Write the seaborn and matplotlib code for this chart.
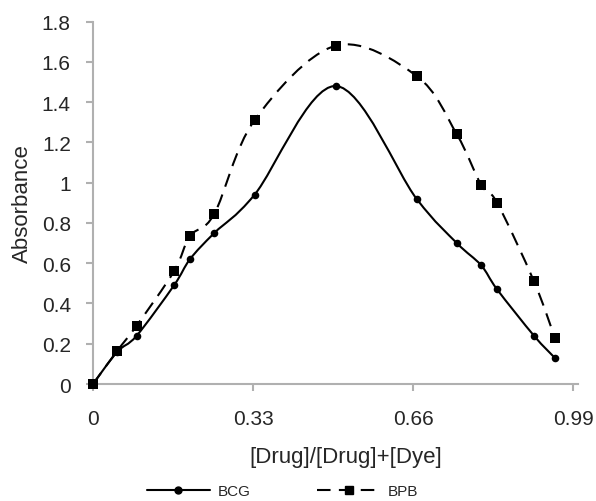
import numpy as np
import pandas as pd
import seaborn as sns
import matplotlib
matplotlib.use("Agg")
import matplotlib.pyplot as plt
from matplotlib.path import Path
from matplotlib.patches import PathPatch
from matplotlib.lines import Line2D

# mole fraction [Drug]/([Drug]+[Dye]) and absorbance
ratio = [0, 0.05, 0.09, 0.167, 0.2, 0.25, 0.333, 0.5, 0.667, 0.75, 0.8, 0.833, 0.909, 0.952]
bcg = [0, 0.16, 0.24, 0.49, 0.62, 0.75, 0.94, 1.48, 0.92, 0.70, 0.59, 0.47, 0.24, 0.13]
bpb = [0, 0.165, 0.29, 0.56, 0.735, 0.845, 1.31, 1.68, 1.53, 1.24, 0.99, 0.90, 0.51, 0.23]

x_ticks = [0, 0.33, 0.66, 0.99]
x_labels = ['0', '0.33', '0.66', '0.99']
y_ticks = [0, 0.2, 0.4, 0.6, 0.8, 1.0, 1.2, 1.4, 1.6, 1.8]
y_labels = ['0', '0.2', '0.4', '0.6', '0.8', '1', '1.2', '1.4', '1.6', '1.8']

sns.set_style("white")
plt.rcParams['font.family'] = ['Liberation Sans', 'DejaVu Sans']

df = pd.DataFrame({'ratio': ratio * 2,
                   'abs': bcg + bpb,
                   'dye': ['BCG'] * len(ratio) + ['BPB'] * len(ratio)})


def smooth_path(xs, ys):
    # excel-like smoothed line: cubic bezier through the points
    pts = np.column_stack([xs, ys])
    n = len(pts)
    verts = [pts[0]]
    codes = [Path.MOVETO]
    for i in range(n - 1):
        p0 = pts[max(i - 1, 0)]
        p1 = pts[i]
        p2 = pts[i + 1]
        p3 = pts[min(i + 2, n - 1)]
        verts += [p1 + (p2 - p0) / 6, p2 - (p3 - p1) / 6, p2]
        codes += [Path.CURVE4] * 3
    return Path(verts, codes)


fig = plt.figure(figsize=(5.96, 5.02), dpi=100)
ax = fig.add_axes([0.156, 0.233, 0.814, 0.722])

ax.add_patch(PathPatch(smooth_path(ratio, bcg), fill=False, edgecolor='black', lw=1.5))
ax.add_patch(PathPatch(smooth_path(ratio, bpb), fill=False, edgecolor='black', lw=1.5,
                       linestyle=(0, (6.5, 4))))

d1 = df[df['dye'] == 'BCG']
d2 = df[df['dye'] == 'BPB']
sns.scatterplot(data=d1, x='ratio', y='abs', ax=ax, color='black', marker='o', s=30,
                edgecolor='black', linewidth=0, legend=False, clip_on=False, zorder=5)
sns.scatterplot(data=d2, x='ratio', y='abs', ax=ax, color='black', marker='s', s=42,
                edgecolor='black', linewidth=0, legend=False, clip_on=False, zorder=5)

ax.set_xlim(0, 1.0)
ax.set_ylim(0, 1.8)
ax.set_xticks(x_ticks)
ax.set_xticklabels(x_labels)
ax.set_yticks(y_ticks)
ax.set_yticklabels(y_labels)

for s in ['top', 'right']:
    ax.spines[s].set_visible(False)
for s in ['left', 'bottom']:
    ax.spines[s].set_color('#b0b0b0')
    ax.spines[s].set_linewidth(1.5)

ax.tick_params(axis='x', direction='out', length=5, width=1.5, color='#b0b0b0',
               labelsize=15, pad=13, bottom=True)
ax.tick_params(axis='y', direction='out', length=5, width=1.5, color='#b0b0b0',
               labelsize=15, pad=11, left=True)

ax.set_xlabel('[Drug]/[Drug]+[Dye]', fontsize=16)
ax.set_ylabel('Absorbance', fontsize=16, labelpad=6)
ax.xaxis.set_label_coords(0.52, -0.172)

handles = [Line2D([], [], color='black', lw=1.5, marker='o', markersize=5),
           Line2D([], [], color='black', lw=1.5, marker='s', markersize=6,
                  linestyle=(0, (6.5, 4)))]
fig.legend(handles, ['BCG', 'BPB'], loc='center', bbox_to_anchor=(0.474, 0.02), ncol=2,
           frameon=False, fontsize=11, handlelength=4.1, handletextpad=0.5,
           columnspacing=4.4)

fig.savefig('out.png', dpi=100)
